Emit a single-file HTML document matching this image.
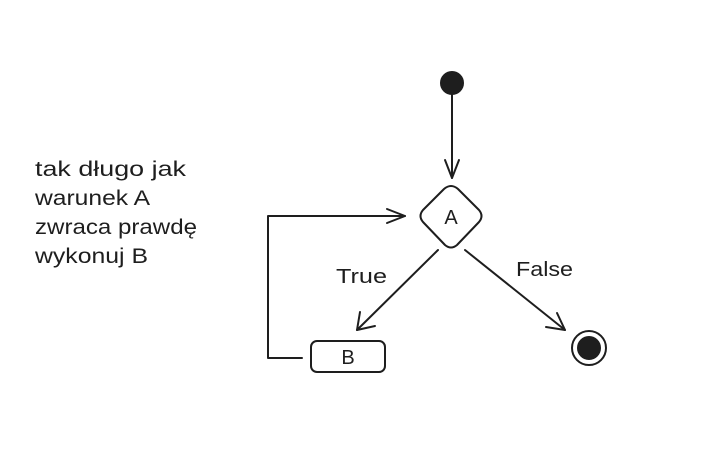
<!DOCTYPE html>
<html><head><style>
body{margin:0;background:#fff;width:721px;height:457px;overflow:hidden}
text{font-family:"Liberation Sans",sans-serif;fill:#1e1e1e}
</style></head><body>
<svg width="721" height="457" viewBox="0 0 721 457">
<g stroke="#1e1e1e" stroke-width="2" fill="none" stroke-linecap="round" stroke-linejoin="round">
<circle cx="452" cy="83" r="11" fill="#1e1e1e"/>
<line x1="452" y1="95" x2="452" y2="178"/>
<polyline points="445,160 452,178 459,160"/>
<path d="M444,189 Q451,183 458,189 L479,210 Q484,216 479,222 L457,245 Q451,250 445,245 L423,222 Q418,216 423,210 Z"/>
<polyline points="302,358 268,358 268,216 405,216"/>
<polyline points="387,209 405,216 387,223"/>
<line x1="438" y1="250" x2="357" y2="330"/>
<polyline points="360,312 357,330 375,326"/>
<line x1="465" y1="250" x2="565" y2="330"/>
<polyline points="546,327 565,330 557,313"/>
<circle cx="589" cy="348" r="17"/>
<circle cx="589" cy="348" r="11" fill="#1e1e1e"/>
<rect x="311" y="341" width="74" height="31" rx="6"/>
</g>
<text x="451" y="224" font-size="20" text-anchor="middle">A</text>
<text x="348" y="364" font-size="20" text-anchor="middle">B</text>
<text x="336" y="283" font-size="20" textLength="51" lengthAdjust="spacingAndGlyphs">True</text>
<text x="516" y="276" font-size="20" textLength="57" lengthAdjust="spacingAndGlyphs">False</text>
<g font-size="21">
<text x="35" y="176" textLength="151" lengthAdjust="spacingAndGlyphs">tak długo jak</text>
<text x="35" y="205" textLength="115" lengthAdjust="spacingAndGlyphs">warunek A</text>
<text x="35" y="234" textLength="162" lengthAdjust="spacingAndGlyphs">zwraca prawdę</text>
<text x="35" y="263" textLength="113" lengthAdjust="spacingAndGlyphs">wykonuj B</text>
</g>
</svg>
</body></html>
